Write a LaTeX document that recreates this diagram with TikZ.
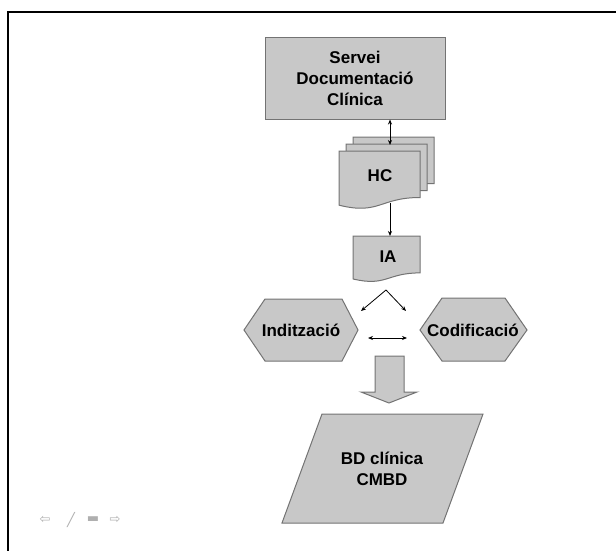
\documentclass[tikz,border=0pt]{standalone}
\usepackage{fontspec}
\setmainfont{Liberation Sans}
\newfontfamily\symfont{DejaVu Sans}
\usetikzlibrary{arrows.meta}

\definecolor{shapefill}{RGB}{200,200,200}
\definecolor{shapeline}{RGB}{115,115,115}
\definecolor{navgray}{RGB}{175,175,175}

% flowchart "document" sheet: top-left corner (#1,#2), width #3, height #4
\newcommand{\docsheet}[4]{%
  (#1,#2) -- ({#1+#3},#2) -- ({#1+#3},{#2+0.802*#4})
  .. controls ({#1+0.5*#3},{#2+0.802*#4}) and ({#1+0.5*#3},{#2+1.107*#4}) ..
  (#1,{#2+0.934*#4}) -- cycle}

\tikzset{
  shapebox/.style={fill=shapefill, draw=shapeline, line width=1pt},
  label/.style={font=\fontsize{17}{21}\selectfont\bfseries, align=center, text=black},
  link/.style={line width=0.8pt, -{Stealth[length=5pt,width=4pt]}},
  twolink/.style={line width=0.8pt, {Stealth[length=5pt,width=4pt]}-{Stealth[length=5pt,width=4pt]}},
  navicon/.style={font=\symfont\fontsize{13}{13}\selectfont, text=navgray, inner sep=0pt}
}

\begin{document}
\begin{tikzpicture}[x=1pt, y=-1pt]
\useasboundingbox (0,0) rectangle (616,551);

% page frame
\draw[line width=1.4pt] (8,551) -- (8,12) -- (616,12);

% Servei Documentació Clínica
\node[shapebox, label, minimum width=180pt, minimum height=81pt, inner sep=0pt]
  (servei) at (355,78.5) {Servei\\Documentació\\Clínica};

% HC: stack of documents
\path[shapebox] \docsheet{353}{137}{81}{58};
\path[shapebox] \docsheet{346}{144}{81}{58};
\path[shapebox] \docsheet{339}{151}{81}{58};
\node[label] (hc) at (380,176) {HC};
\coordinate (hcTop) at (390,145);
\coordinate (hcBot) at (390,203);

% IA document
\path[shapebox] \docsheet{353}{236}{67}{46};
\node[label] (ia) at (388,257) {IA};
\coordinate (iaTop) at (390,236);

% Indització and Codificació
\path[shapebox] (244,330) -- (265,299) -- (342,299) -- (358,330) -- (342,361) -- (265,361) -- cycle;
\node[label] (index) at (301,330) {Indització};
\path[shapebox] (420,330) -- (442,298) -- (505,298) -- (527,330) -- (505,361) -- (442,361) -- cycle;
\node[label] (codif) at (473,330) {Codificació};

% block arrow down
\path[shapebox] (375,356) -- (404,356) -- (404,392) -- (417,392) -- (389,403)
  -- (361,392) -- (375,392) -- cycle;

% BD clínica CMBD
\path[shapebox] (322,414) -- (483,414) -- (443,523) -- (282,523) -- cycle;
\node[label] (bd) at (382,469) {BD clínica\\CMBD};

% connectors
\coordinate (split) at (386,290);
\coordinate (toIndex) at (361,311);
\coordinate (toCodif) at (406,311);
\coordinate (midL) at (368,338);
\coordinate (midR) at (407,338);
\draw[twolink] (servei.south -| hcTop) -- (hcTop);
\draw[link] (hcBot) -- (iaTop);
\draw[link] (split) -- (toIndex);
\draw[link] (split) -- (toCodif);
\draw[twolink] (midL) -- (midR);

% navigation symbols
\node[navicon] (navBack) at (45,520) {⇦};
\node[navicon] (navEdit) at (71,520) {╱};
\node[navicon] (navList) at (93,520) {▬};
\node[navicon] (navNext) at (115,520) {⇨};
\end{tikzpicture}
\end{document}
